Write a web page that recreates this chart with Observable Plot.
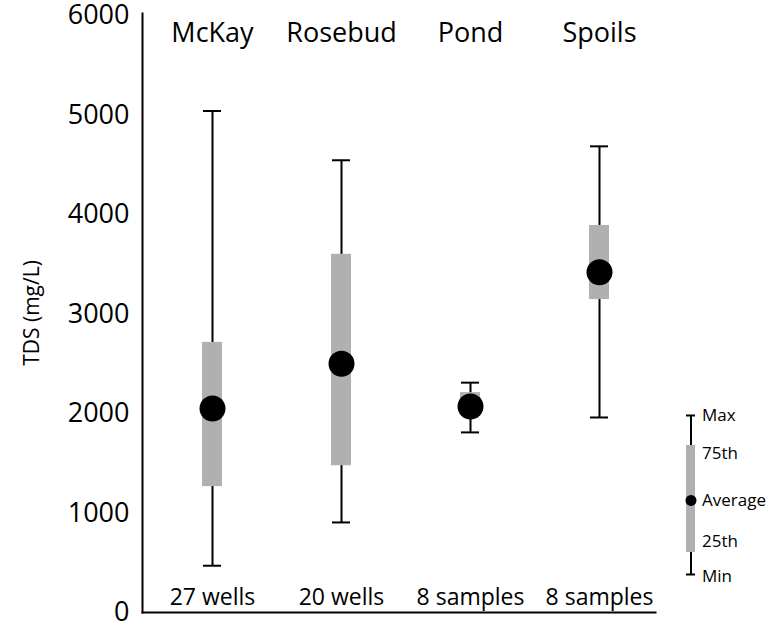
<!DOCTYPE html>
<html>
<head>
<meta charset="utf-8">
<script src="https://cdn.jsdelivr.net/npm/d3@7"></script>
<script src="https://cdn.jsdelivr.net/npm/@observablehq/plot@0.6"></script>
<style>
  body { margin: 0; background: #fff; }
  #wrap { position: relative; width: 769px; height: 624px; font-family: "Open Sans", sans-serif; overflow: hidden; }
  #legend { position: absolute; left: 660px; top: 400px; }
</style>
</head>
<body>
<div id="wrap"><div id="main"></div><div id="legend"></div></div>
<script>
const categories = ["McKay", "Rosebud", "Pond", "Spoils"];
const sampleLabels = ["27 wells", "20 wells", "8 samples", "8 samples"];
const minVals = [470, 905, 1810, 1960];
const q25Vals = [1265, 1475, 2030, 3145];
const avgVals = [2050, 2500, 2070, 3420];
const q75Vals = [2715, 3600, 2210, 3890];
const maxVals = [5040, 4545, 2310, 4685];
const yTicks = [0, 1000, 2000, 3000, 4000, 5000, 6000];

// legend example glyph (schematic, in TDS units) and its label anchors
const legendNames = ["Max", "75th", "Average", "25th", "Min"];
const legendVals = [1980, 1678, 1126, 603, 382];
const legendLabelVals = [1980, 1600, 1126, 710, 365];

const data = categories.map((c, i) => ({
  cat: c, label: sampleLabels[i],
  min: minVals[i], q25: q25Vals[i], avg: avgVals[i], q75: q75Vals[i], max: maxVals[i]
}));

const font = "Open Sans, sans-serif";

const main = Plot.plot({
  width: 769,
  height: 624,
  marginLeft: 142,
  marginRight: 114,
  marginTop: 13,
  marginBottom: 12,
  style: { fontFamily: font, background: "transparent", overflow: "visible" },
  x: { type: "band", domain: categories, range: [202, 609], paddingInner: 0.845, paddingOuter: 0, axis: null },
  y: { domain: [0, 6000], range: [612, 15], axis: null },
  marks: [
    Plot.axisY({ ticks: yTicks, tickSize: 0, tickPadding: 13, fontSize: 27, label: null, tickFormat: d => String(d), fill: "#000" }),
    Plot.text(["TDS (mg/L)"], { frameAnchor: "left", textAnchor: "middle", rotate: -90, dx: -110, fontSize: 21, fill: "#000" }),
    Plot.frame({ anchor: "left", stroke: "#000", strokeWidth: 2 }),
    Plot.frame({ anchor: "bottom", stroke: "#000", strokeWidth: 2 }),
    Plot.ruleX(data, { x: "cat", y1: "min", y2: "max", stroke: "#000", strokeWidth: 2 }),
    Plot.tickY(data, { x: "cat", y: "min", stroke: "#000", strokeWidth: 2, insetLeft: 1, insetRight: 1 }),
    Plot.tickY(data, { x: "cat", y: "max", stroke: "#000", strokeWidth: 2, insetLeft: 1, insetRight: 1 }),
    Plot.barY(data, { x: "cat", y1: "q25", y2: "q75", fill: "#b0b0b0" }),
    Plot.dot(data, { x: "cat", y: "avg", r: 13, fill: "#000", stroke: "none" }),
    Plot.text(data, { x: "cat", text: "cat", frameAnchor: "top", lineAnchor: "middle", dy: 20, fontSize: 27, fill: "#000" }),
    Plot.text(data, { x: "cat", text: "label", frameAnchor: "bottom", lineAnchor: "middle", dy: -15, fontSize: 23, fill: "#000" })
  ]
});
document.getElementById("main").appendChild(main);

const legendData = legendNames.map((n, i) => ({ name: n, v: legendLabelVals[i] }));
const lv = Object.fromEntries(legendNames.map((n, i) => [n, legendVals[i]]));
const legendBox = [{ k: "legend", min: lv.Min, q25: lv["25th"], avg: lv.Average, q75: lv["75th"], max: lv.Max }];

const legend = Plot.plot({
  width: 109,
  height: 200,
  margin: 0,
  style: { fontFamily: font, background: "transparent", overflow: "visible" },
  x: { type: "band", domain: ["legend"], range: [26, 35], padding: 0, axis: null },
  y: { domain: [0, 6000], range: [212, -385], axis: null },
  marks: [
    Plot.ruleX(legendBox, { x: "k", y1: "min", y2: "max", stroke: "#000", strokeWidth: 2 }),
    Plot.tickY(legendBox, { x: "k", y: "min", stroke: "#000", strokeWidth: 2 }),
    Plot.tickY(legendBox, { x: "k", y: "max", stroke: "#000", strokeWidth: 2 }),
    Plot.barY(legendBox, { x: "k", y1: "q25", y2: "q75", fill: "#b0b0b0" }),
    Plot.dot(legendBox, { x: "k", y: "avg", r: 5.5, fill: "#000", stroke: "none" }),
    Plot.text(legendData, { x: () => "legend", y: "v", text: "name", textAnchor: "start", dx: 11, fontSize: 17, fill: "#000" })
  ]
});
document.getElementById("legend").appendChild(legend);
</script>
</body>
</html>
